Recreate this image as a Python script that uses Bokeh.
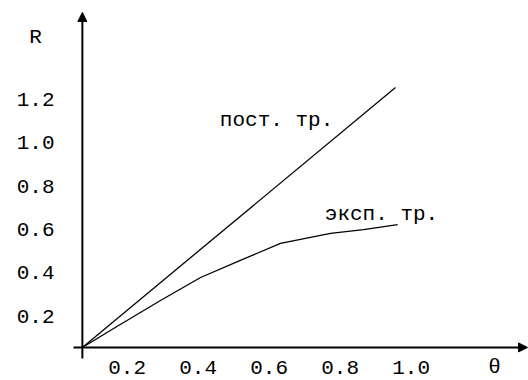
from bokeh.plotting import figure
from bokeh.models import Range1d, Arrow, NormalHead, ColumnDataSource
from bokeh.core.properties import value
from bokeh.embed import file_html
from bokeh.resources import INLINE

# ---- data ----
theta_ticks = [0.2, 0.4, 0.6, 0.8, 1.0]
theta_tick_labels = ["0.2", "0.4", "0.6", "0.8", "1.0"]
r_ticks = [0.2, 0.4, 0.6, 0.8, 1.0, 1.2]
r_tick_labels = ["0.2", "0.4", "0.6", "0.8", "1.0", "1.2"]

theta_const = [0.074, 0.956]
r_const = [0.057, 1.254]

theta_exp = [0.074, 0.162, 0.294, 0.407, 0.519, 0.632, 0.773, 0.866, 0.962]
r_exp = [0.057, 0.144, 0.273, 0.379, 0.458, 0.536, 0.582, 0.600, 0.623]

label_const = "пост. тр."
label_exp = "эксп. тр."
x_title = "θ"
y_title = "R"

FONT = value("Liberation Mono")
FS = value("21px")

p = figure(width=528, height=380, output_backend="svg", toolbar_location=None,
           x_range=Range1d(-0.1566, 1.3307), y_range=Range1d(-0.0953, 1.6550),
           min_border=0, min_border_left=0, min_border_right=0,
           min_border_top=0, min_border_bottom=0)
p.axis.visible = False
p.grid.visible = False
p.outline_line_color = None
p.background_fill_color = "white"
p.border_fill_color = "white"

# axes (drawn as arrows crossing at the curves' start point)
x0, y0 = theta_const[0], r_const[0]
p.add_layout(Arrow(end=NormalHead(size=9, fill_color="black", line_color="black"),
                   x_start=x0, y_start=0.006, x_end=x0, y_end=1.60,
                   line_width=2, line_color="black"))
p.add_layout(Arrow(end=NormalHead(size=9, fill_color="black", line_color="black"),
                   x_start=0.049, y_start=y0, x_end=1.328, y_end=y0,
                   line_width=2, line_color="black"))

# curves
p.line(theta_const, r_const, line_color="black", line_width=1.3)
p.line(theta_exp, r_exp, line_color="black", line_width=1.3)

# tick labels
x_lab_y = -0.0355
xs = ColumnDataSource(dict(x=theta_ticks, y=[x_lab_y] * len(theta_ticks), t=theta_tick_labels))
p.text(x="x", y="y", text="t", source=xs, text_font=FONT, text_font_size=FS,
       text_align="center", text_baseline="middle", text_color="black")
ys = ColumnDataSource(dict(x=[-0.0045] * len(r_ticks), y=r_ticks, t=r_tick_labels))
p.text(x="x", y="y", text="t", source=ys, text_font=FONT, text_font_size=FS,
       text_align="right", text_baseline="middle", text_color="black")

# axis titles and curve labels
p.text(x=[-0.058], y=[1.4845], text=[y_title], text_font=FONT, text_font_size=FS,
       text_align="center", text_baseline="middle", text_color="black")
p.text(x=[1.235], y=[-0.0355], text=[x_title], text_font=FONT, text_font_size=FS,
       text_align="center", text_baseline="middle", text_color="black")
p.text(x=[0.621], y=[1.102], text=[label_const], text_font=FONT, text_font_size=FS,
       text_align="center", text_baseline="middle", text_color="black")
p.text(x=[0.9166], y=[0.669], text=[label_exp], text_font=FONT, text_font_size=FS,
       text_align="center", text_baseline="middle", text_color="black")

open("out.html", "w").write(file_html(p, INLINE))
